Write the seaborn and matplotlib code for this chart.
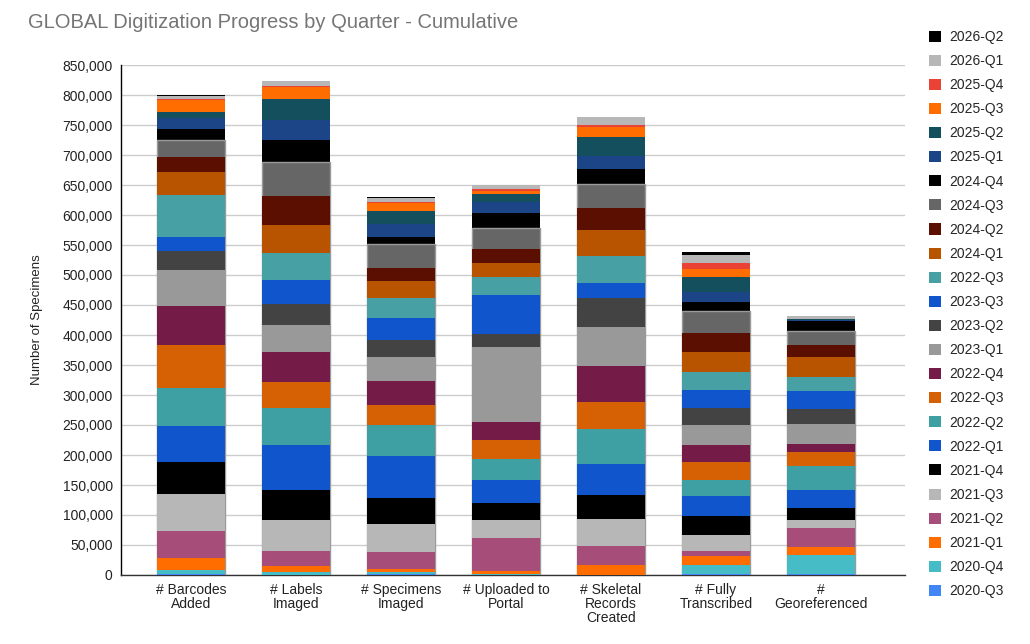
import numpy as np
import pandas as pd
import seaborn as sns
import matplotlib
matplotlib.use('Agg')
import matplotlib.pyplot as plt
from matplotlib.patches import Patch
from matplotlib.ticker import FuncFormatter

# quarters, oldest first (the odd "2022-Q3" label after 2023-Q3 is as in the source)
quarters = ['2020-Q3', '2020-Q4', '2021-Q1', '2021-Q2', '2021-Q3', '2021-Q4',
            '2022-Q1', '2022-Q2', '2022-Q3', '2022-Q4', '2023-Q1', '2023-Q2',
            '2023-Q3', '2022-Q3', '2024-Q1', '2024-Q2', '2024-Q3', '2024-Q4',
            '2025-Q1', '2025-Q2', '2025-Q3', '2025-Q4', '2026-Q1', '2026-Q2']

colors = ['#4285F4', '#46BDC6', '#FF6D01', '#A64D79', '#B7B7B7', '#000000',
          '#1155CC', '#3FA0A4', '#D66004', '#741B47', '#999999', '#434343',
          '#1155CC', '#46A0A4', '#B85400', '#5B0F00', '#666666', '#000000',
          '#1C4587', '#134F5C', '#FF6D01', '#EA4335', '#B7B7B7', '#000000']

categories = ['# Barcodes\nAdded', '# Labels\nImaged', '# Specimens\nImaged',
              '# Uploaded to\nPortal', '# Skeletal\nRecords\nCreated',
              '# Fully\nTranscribed', '#\nGeoreferenced']

# specimens added per quarter, one list per category (oldest quarter first)
barcodes_added = [2000, 6000, 20800, 44900, 61000, 53300, 60000, 64000, 72000, 65000, 60000, 31600,
                  23400, 70000, 38000, 24000, 29000, 18500, 17500, 11000, 19000, 2000, 4600, 2400]
labels_imaged = [500, 4500, 10000, 25000, 51500, 49500, 75000, 62000, 43000, 50000, 45000, 35000,
                 41000, 45000, 47000, 47000, 58000, 36000, 33000, 36000, 19000, 2000, 8000, 0]
specimens_imaged = [1000, 3500, 6000, 27500, 47000, 43600, 69400, 51500, 33500, 41000, 39000, 29500,
                    35500, 33000, 29700, 20300, 41000, 12000, 21000, 21000, 14000, 2000, 6700, 1300]
uploaded_portal = [500, 500, 6000, 54500, 30000, 28500, 38000, 35000, 31500, 30000, 125500, 21000,
                   65000, 31000, 22500, 23500, 34700, 24900, 18400, 14000, 5000, 3000, 7000, 0]
skeletal_records = [300, 300, 16000, 31400, 45000, 40000, 51600, 58400, 46000, 59000, 66000, 47000,
                    25000, 46000, 43500, 35500, 40500, 25500, 21600, 32100, 16300, 3000, 13500, 0]
fully_transcribed = [1500, 15100, 15000, 8400, 26500, 31500, 33000, 27000, 30000, 28000, 33500, 28500,
                     30000, 29600, 33400, 32000, 36600, 15000, 16400, 25000, 14000, 9500, 13500, 6000]
georeferenced = [1500, 31500, 13600, 31400, 13500, 19900, 29600, 40000, 23600, 13400, 33000, 25000,
                 30500, 23500, 33000, 20700, 23800, 15500, 2000, 1000, 0, 0, 5000, 0]

all_series = [barcodes_added, labels_imaged, specimens_imaged, uploaded_portal,
              skeletal_records, fully_transcribed, georeferenced]

df = pd.DataFrame(np.array(all_series).T, columns=categories)
cum = df[categories].cumsum()

sns.set_theme(style='white')
plt.rcParams['font.family'] = ['Liberation Sans', 'DejaVu Sans']

fig, ax = plt.subplots(figsize=(10.3, 6.44), dpi=100)
fig.subplots_adjust(left=121 / 1030, right=905 / 1030, bottom=1 - 575 / 644, top=1 - 65 / 644)

# stacked bars: draw the running totals from the newest (tallest) down
for i in range(len(quarters) - 1, -1, -1):
    edge = '#9a9a9a' if i == 16 else 'none'
    lw = 1.0 if i == 16 else 0
    sns.barplot(x=categories, y=cum.iloc[i].values, order=categories, color=colors[i],
                saturation=1, width=0.65, errorbar=None,
                edgecolor=edge, linewidth=lw, ax=ax, zorder=3)

ax.set_ylim(0, 850000)
ax.set_xlim(-0.667, 6.8)
ax.set_yticks(np.arange(0, 850001, 50000))
ax.yaxis.set_major_formatter(FuncFormatter(lambda v, p: f'{int(v):,}'))
ax.grid(axis='y', color='#cccccc', linewidth=1, zorder=0)
ax.set_axisbelow(True)
ax.tick_params(axis='both', length=0, labelsize=10, colors='#222222')
ax.tick_params(axis='y', pad=6)
ax.tick_params(axis='x', pad=6)
for lab in ax.get_xticklabels():
    lab.set_linespacing(1.0)
for s in ['top', 'right']:
    ax.spines[s].set_visible(False)
ax.spines['left'].set_color('#000000')
ax.spines['bottom'].set_color('#333333')
ax.spines['left'].set_linewidth(1)
ax.spines['bottom'].set_linewidth(1)
ax.set_xlabel('')
ax.set_ylabel('Number of Specimens', fontsize=9.5, color='#222222', labelpad=14)

fig.text(28 / 1030, 1 - 22 / 644, 'GLOBAL Digitization Progress by Quarter - Cumulative',
         fontsize=14.5, color='#757575', va='center', ha='left')

# legend, newest quarter on top
handles = [Patch(facecolor=colors[i], edgecolor='none') for i in range(len(quarters) - 1, -1, -1)]
labels = [quarters[i] for i in range(len(quarters) - 1, -1, -1)]
ax.legend(handles, labels, loc='upper left', bbox_to_anchor=(929 / 1030, 1 - 30 / 644),
          bbox_transform=fig.transFigure, frameon=False, fontsize=10,
          handlelength=0.85, handleheight=0.85, handletextpad=0.6, labelspacing=0.727,
          borderaxespad=0, borderpad=0)

plt.savefig('out.png', dpi=100)
